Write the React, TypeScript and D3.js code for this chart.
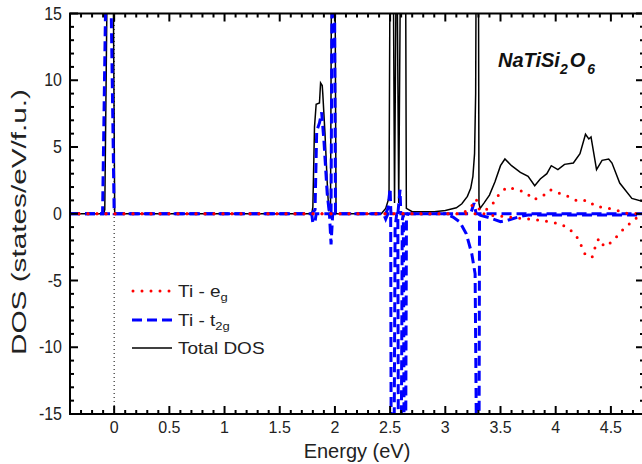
import React from "react";
import * as d3 from "d3";

type P = [number, number];

// Total DOS (black)
const totalDOS: P[] = [
  [-0.4, 0], [-0.095, 0], [-0.085, 0.3], [-0.06, 20], [-0.01, 20], [0.005, 0],
  [1.79, 0], [1.8, 0.5], [1.815, 6.5], [1.83, 8.2], [1.86, 8.3], [1.87, 9.8], [1.885, 9.6], [1.89, 9.0],
  [1.91, 6], [1.935, 1.5], [1.945, 0.3], [1.96, 0.5], [1.97, 20], [2.0, 20], [2.01, 0],
  [2.42, 0], [2.46, 0.4], [2.49, 1.2], [2.5, 20], [2.528, 20], [2.54, 0.8], [2.556, 20], [2.562, 20],
  [2.578, 0.8], [2.595, 20], [2.64, 20], [2.647, 0.4], [2.7, 0.15], [2.9, 0.15], [3.0, 0.25],
  [3.1, 0.45], [3.15, 0.75], [3.2, 1.3], [3.23, 1.9], [3.25, 2.8], [3.265, 4.5], [3.275, 9], [3.28, 20],
  [3.3, 20], [3.305, 0.8], [3.315, 0.4], [3.35, 0.8], [3.4, 1.4], [3.45, 2.4], [3.5, 3.6], [3.54, 4.1],
  [3.6, 3.6], [3.68, 3.1], [3.75, 2.8], [3.81, 2.1], [3.86, 2.6], [3.92, 3.0], [3.96, 3.6], [4.02, 3.3],
  [4.08, 3.7], [4.16, 3.8], [4.22, 4.5], [4.27, 5.95], [4.3, 5.6], [4.32, 5.75], [4.37, 3.3], [4.42, 4.0],
  [4.48, 4.1], [4.51, 3.8], [4.58, 2.3], [4.69, 1.15], [4.8, 0.9],
];

// Ti t2g, spin up (blue dashed)
const t2gUp: P[] = [
  [-0.4, 0], [-0.105, 0], [-0.07, 20], [-0.035, 20], [0.0, 0],
  [1.79, 0], [1.82, 0.3], [1.835, 6.2], [1.86, 6.8], [1.88, 7.6], [1.9, 5.5], [1.93, 1.5], [1.95, 0],
  [1.965, 0], [1.975, 20], [1.995, 20], [2.005, 0],
  [2.46, 0], [2.48, 0.4], [2.5, 1.9], [2.507, 0], [2.57, 0], [2.59, 1.8], [2.597, 0],
  [3.23, 0], [3.26, 0.8], [3.28, 0], [4.8, 0],
];

// Ti t2g, spin down (blue dashed)
const t2gDown: P[] = [
  [-0.4, 0], [1.79, 0], [1.8, -0.7], [1.82, -0.6], [1.83, 0], [1.95, 0], [1.965, -2.3], [1.98, 0],
  [2.44, 0], [2.46, -0.4], [2.48, 0], [2.505, 0], [2.51, -20], [2.535, -20], [2.545, -1], [2.56, 0],
  [2.57, 0], [2.575, -20], [2.6, -20], [2.61, -0.5], [2.62, 0], [2.628, -20], [2.64, -20], [2.648, -0.5],
  [2.66, 0], [3.0, 0], [3.07, -0.25], [3.13, -0.6], [3.19, -1.5], [3.24, -3.0], [3.27, -4.5],
  [3.285, -20], [3.305, -20], [3.31, -0.1], [3.4, -0.3], [3.5, -0.6], [3.56, -0.5], [3.68, -0.2],
  [3.75, -0.1], [4.8, -0.1],
];

// Ti eg, spin up (red dotted)
const egUp: P[] = [
  [-0.4, 0], [3.15, 0], [3.22, 0.4], [3.25, 0.7], [3.28, 1.1], [3.31, 0.25], [3.37, 0.3], [3.44, 0.85],
  [3.49, 1.5], [3.56, 2.0], [3.65, 1.8], [3.73, 1.6], [3.8, 1.05], [3.88, 1.3], [3.95, 1.8], [4.03, 1.55],
  [4.11, 1.3], [4.2, 0.95], [4.29, 1.0], [4.36, 0.55], [4.45, 0.45], [4.54, 0.3], [4.63, 0.05], [4.8, 0],
];

// Ti eg, spin down (red dotted)
const egDown: P[] = [
  [-0.4, 0], [3.35, 0], [3.4, -0.1], [3.58, -0.25], [3.87, -0.5], [4.04, -0.75], [4.12, -1.1],
  [4.19, -1.7], [4.23, -2.35], [4.27, -3.1], [4.33, -3.25], [4.36, -2.45], [4.39, -1.85], [4.44, -2.45],
  [4.51, -2.1], [4.63, -1.0], [4.7, -0.55], [4.76, -0.1], [4.8, 0],
];

const xDomain: [number, number] = [-0.4, 4.8];
const yDomain: [number, number] = [-15, 15];
const xTickLabels = [0, 0.5, 1, 1.5, 2, 2.5, 3, 3.5, 4, 4.5];
const yTickLabels = [-15, -10, -5, 0, 5, 10, 15];

const W = 642;
const H = 464;
const L = 70, R = 644, T = 13.5, B = 414;
const FONT = "'Liberation Sans', Arial, Helvetica, sans-serif";

export default function App() {
  const x = d3.scaleLinear().domain(xDomain).range([L, R]);
  const y = d3.scaleLinear().domain(yDomain).range([B, T]);
  const line = d3.line<P>().x((d) => x(d[0])).y((d) => y(d[1]));

  const xMinor = d3.range(-4, 49).map((i) => ({ v: i / 10, major: i % 5 === 0 }));
  const yMinor = d3.range(-15, 16).map((v) => ({ v, major: v % 5 === 0 }));

  const red = "#ff0000";
  const blue = "#0000ff";

  return (
    <svg width={W} height={H} style={{ position: "absolute", left: 0, top: 0, background: "#fff" }}>
      <defs>
        <clipPath id="plot">
          <rect x={L} y={T} width={R - L} height={B - T} />
        </clipPath>
      </defs>
      <rect x={0} y={0} width={W} height={H} fill="#fff" />
      <line x1={x(0)} x2={x(0)} y1={B} y2={T} stroke="#000" strokeWidth={1} strokeDasharray="1 3" />
      <g clipPath="url(#plot)">
        <path d={line(totalDOS)!} fill="none" stroke="#000" strokeWidth={1.5} />
        <path d={line(t2gUp)!} fill="none" stroke={blue} strokeWidth={3} strokeDasharray="10 5" />
        <path d={line(t2gDown)!} fill="none" stroke={blue} strokeWidth={3} strokeDasharray="10 5" />
        <path d={line(egUp)!} fill="none" stroke={red} strokeWidth={3} strokeDasharray="0 9" strokeLinecap="round" />
        <path d={line(egDown)!} fill="none" stroke={red} strokeWidth={3} strokeDasharray="0 9" strokeLinecap="round" />
      </g>
      <rect x={L} y={T} width={R - L} height={B - T} fill="none" stroke="#000" strokeWidth={2} />
      {xMinor.map((t, i) => {
        const len = t.major ? 8 : 4;
        const xx = x(t.v);
        return (
          <g key={"xt" + i} stroke="#000" strokeWidth={2}>
            <line x1={xx} x2={xx} y1={B} y2={B - len} />
            <line x1={xx} x2={xx} y1={T} y2={T + len} />
          </g>
        );
      })}
      {yMinor.map((t, i) => {
        const len = t.major ? 8 : 4;
        const yy = y(t.v);
        return (
          <g key={"yt" + i} stroke="#000" strokeWidth={2}>
            <line x1={L} x2={L + len} y1={yy} y2={yy} />
            <line x1={R} x2={R - len} y1={yy} y2={yy} />
          </g>
        );
      })}
      {xTickLabels.map((v) => (
        <text key={"xl" + v} transform={`translate(${x(v)},433) scale(1,1.05)`} textAnchor="middle" fontFamily={FONT} fontSize={16} fill="#222">
          {String(v)}
        </text>
      ))}
      {yTickLabels.map((v) => (
        <text key={"yl" + v} transform={`translate(62,${y(v) + 6}) scale(1,1.1)`} textAnchor="end" fontFamily={FONT} fontSize={16} fill="#222">
          {String(v)}
        </text>
      ))}
      <text transform="translate(357,458) scale(1,1.05)" textAnchor="middle" fontFamily={FONT} fontSize={20} fill="#222">
        Energy (eV)
      </text>
      <text
        transform={`translate(26,222) rotate(-90)`}
        textAnchor="middle"
        fontFamily={FONT}
        fontSize={20}
        fill="#222"
        textLength={266}
        lengthAdjust="spacingAndGlyphs"
      >
        DOS (states/eV/f.u.)
      </text>
      <text x={498} y={67} fontFamily={FONT} fontSize={20} fontWeight="bold" fontStyle="italic" fill="#111">
        NaTiSi
        <tspan fontSize={14} dy={7} dx={0}>2</tspan>
        <tspan dy={-7} dx={2}>O</tspan>
        <tspan fontSize={14} dy={7} dx={2}>6</tspan>
      </text>
      <g>
        <line x1={133} x2={172} y1={291} y2={291} stroke={red} strokeWidth={3} strokeDasharray="0 9" strokeLinecap="round" />
        <text transform="translate(178,297) scale(1,0.85)" fontFamily={FONT} fontSize={19} fill="#222">
          Ti - e<tspan fontSize={13} dy={5}>g</tspan>
        </text>
        <line x1={132} x2={172} y1={320} y2={320} stroke={blue} strokeWidth={3} strokeDasharray="10 5" />
        <text transform="translate(178,326) scale(1,0.85)" fontFamily={FONT} fontSize={19} fill="#222">
          Ti - t<tspan fontSize={13} dy={5}>2g</tspan>
        </text>
        <line x1={132} x2={172} y1={348} y2={348} stroke="#000" strokeWidth={1.5} />
        <text transform="translate(178,354) scale(1,0.85)" fontFamily={FONT} fontSize={19} fill="#222">
          Total DOS
        </text>
      </g>
    </svg>
  );
}
